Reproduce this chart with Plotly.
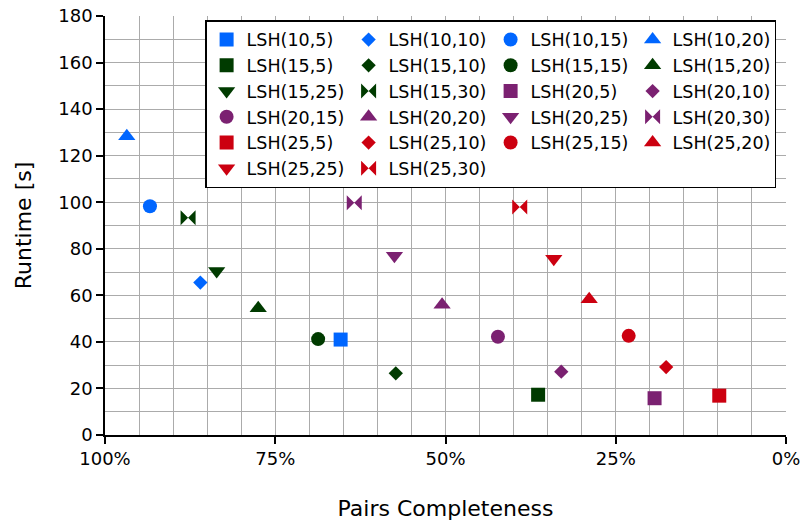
import plotly.graph_objects as go

# LSH configurations: (bands, rows) -> pairs completeness [%] and runtime [s]
labels = [
    "LSH(10,5)", "LSH(10,10)", "LSH(10,15)", "LSH(10,20)",
    "LSH(15,5)", "LSH(15,10)", "LSH(15,15)", "LSH(15,20)", "LSH(15,25)", "LSH(15,30)",
    "LSH(20,5)", "LSH(20,10)", "LSH(20,15)", "LSH(20,20)", "LSH(20,25)", "LSH(20,30)",
    "LSH(25,5)", "LSH(25,10)", "LSH(25,15)", "LSH(25,20)", "LSH(25,25)", "LSH(25,30)",
]
bands = [10, 10, 10, 10,
         15, 15, 15, 15, 15, 15,
         20, 20, 20, 20, 20, 20,
         25, 25, 25, 25, 25, 25]
rows = [5, 10, 15, 20,
        5, 10, 15, 20, 25, 30,
        5, 10, 15, 20, 25, 30,
        5, 10, 15, 20, 25, 30]
pairs_completeness = [65.4, 86.0, 93.4, 96.8,
                      36.4, 57.3, 68.7, 77.5, 83.6, 87.8,
                      19.3, 33.0, 42.3, 50.5, 57.5, 63.4,
                      9.8, 17.6, 23.1, 28.9, 34.1, 39.1]
runtime = [41.0, 65.5, 98.3, 128.3,
           17.3, 26.5, 41.2, 54.5, 70.5, 93.3,
           15.8, 27.2, 42.2, 56.0, 77.0, 99.8,
           16.9, 29.2, 42.6, 58.3, 75.7, 98.0]

band_colors = {10: "#0066ff", 15: "#003b00", 20: "#7b2171", 25: "#cc0010"}
row_symbols = {5: "square", 10: "diamond", 15: "circle",
               20: "triangle-up", 25: "triangle-down", 30: "bowtie"}
row_sizes = {5: 14, 10: 11, 15: 14, 20: 15, 25: 15, 30: 15}

FONT = "DejaVu Sans"
GRID = "#ababab"

fig = go.Figure()
for name, b, r, pc, rt in zip(labels, bands, rows, pairs_completeness, runtime):
    fig.add_trace(go.Scatter(
        x=[pc], y=[rt], name=name, mode="markers",
        marker=dict(symbol=row_symbols[r], size=row_sizes[r],
                    color=band_colors[b], line=dict(width=0)),
    ))

fig.update_layout(
    width=803, height=522,
    margin=dict(l=105, r=17, t=16, b=87),
    paper_bgcolor="white", plot_bgcolor="white",
    font=dict(family=FONT, size=18, color="black"),
    showlegend=True,
    legend=dict(
        orientation="h", x=0.147, y=0.99, xanchor="left", yanchor="top",
        entrywidth=97, entrywidthmode="pixels",
        bgcolor="white", bordercolor="black", borderwidth=1.5,
        font=dict(family=FONT, size=17.5, color="black"),
        traceorder="normal",
    ),
    xaxis=dict(
        range=[100, 0], tickmode="linear", tick0=0, dtick=25, ticksuffix="%",
        showgrid=True, gridcolor=GRID, gridwidth=1,
        minor=dict(dtick=5, tick0=0, showgrid=True, gridcolor=GRID, gridwidth=1),
        showline=True, linecolor="black", linewidth=1.5,
        ticks="outside", ticklen=7, tickwidth=1.5, tickcolor="black",
        zeroline=False, automargin=False,
        title=dict(text="Pairs Completeness", font=dict(size=22), standoff=32),
    ),
    yaxis=dict(
        range=[0, 180], tickmode="linear", tick0=0, dtick=20,
        showgrid=True, gridcolor=GRID, gridwidth=1,
        minor=dict(dtick=10, tick0=0, showgrid=True, gridcolor=GRID, gridwidth=1),
        showline=True, linecolor="black", linewidth=1.5,
        ticks="outside", ticklen=7, tickwidth=1.5, tickcolor="black",
        zeroline=False, automargin=False,
        title=dict(text="Runtime [s]", font=dict(size=22), standoff=21),
    ),
)

fig.write_html("out.html")
